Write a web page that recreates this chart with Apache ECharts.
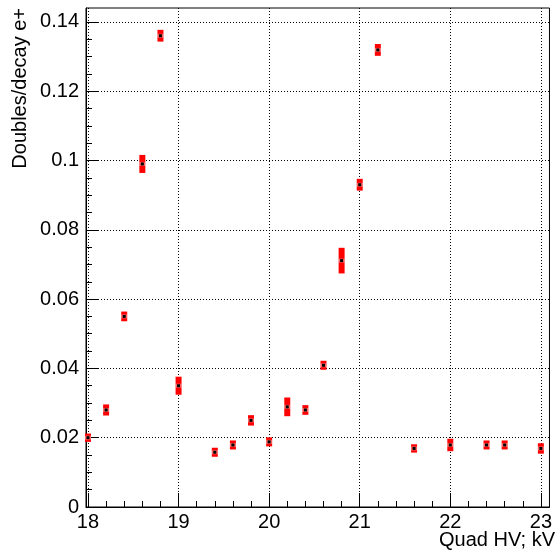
<!DOCTYPE html>
<html><head><meta charset="utf-8">
<script src="https://cdn.jsdelivr.net/npm/echarts@6/dist/echarts.min.js"></script>
<style>html,body{margin:0;padding:0;background:#fff}#c{width:555px;height:552px}</style>
</head><body><div id="c"></div>
<script>
const hv = [18.0, 18.2, 18.4, 18.6, 18.8, 19.0, 19.4, 19.6, 19.8, 20.0, 20.2, 20.4, 20.6, 20.8, 21.0, 21.2, 21.6, 22.0, 22.4, 22.6, 23.0];
const ratio = [0.0200, 0.0280, 0.0550, 0.0990, 0.1360, 0.0350, 0.0158, 0.0179, 0.0250, 0.0188, 0.0289, 0.0280, 0.0409, 0.0711, 0.0930, 0.1319, 0.0169, 0.0179, 0.0179, 0.0179, 0.0169];
const err = [0.0012, 0.0016, 0.0014, 0.0026, 0.0017, 0.0026, 0.0013, 0.0013, 0.0015, 0.0013, 0.0027, 0.0014, 0.0013, 0.0037, 0.0017, 0.0017, 0.0012, 0.0018, 0.0013, 0.0013, 0.0015];
const xMajor = [18, 19, 20, 21, 22, 23];
const xMinor = [18.2, 18.4, 18.6, 18.8, 19.2, 19.4, 19.6, 19.8, 20.2, 20.4, 20.6, 20.8, 21.2, 21.4, 21.6, 21.8, 22.2, 22.4, 22.6, 22.8];
const yMajor = [0, 0.02, 0.04, 0.06, 0.08, 0.1, 0.12, 0.14];
const yMinor = [0.005, 0.01, 0.015, 0.025, 0.03, 0.035, 0.045, 0.05, 0.055, 0.065, 0.07, 0.075, 0.085, 0.09, 0.095, 0.105, 0.11, 0.115, 0.125, 0.13, 0.135];
const xTitle = 'Quad HV; kV';
const yTitle = 'Doubles/decay e+';

const FONT = 'Liberation Sans';
const XMIN = 17.978, XMAX = 23.095, YMIN = 0, YMAX = 0.1440;

const chart = echarts.init(document.getElementById('c'), null, {renderer: 'canvas'});
const data = hv.map((x, i) => [x, ratio[i], err[i]]);

chart.setOption({
  animation: false,
  backgroundColor: '#fff',
  grid: {left: 86, right: 2, top: 8, bottom: 45, show: true, borderColor: '#000', borderWidth: 1, backgroundColor: 'transparent'},
  xAxis: [
    {type: 'value', min: XMIN, max: XMAX, position: 'bottom',
     axisLine: {show: true, onZero: false, lineStyle: {color: '#000', width: 1}},
     axisTick: {show: true, inside: true, length: 14, customValues: xMajor, lineStyle: {color: '#000'}},
     axisLabel: {show: true, customValues: xMajor, formatter: v => String(v), fontFamily: FONT, fontSize: 20, color: '#000', margin: 5},
     splitLine: {show: true, lineStyle: {color: '#000', type: [1, 2], width: 1}}},
    {type: 'value', min: XMIN, max: XMAX, position: 'bottom',
     axisLine: {show: false},
     axisTick: {show: true, inside: true, length: 6, customValues: xMinor, lineStyle: {color: '#000'}},
     axisLabel: {show: false},
     splitLine: {show: false}}
  ],
  yAxis: [
    {type: 'value', min: YMIN, max: YMAX, position: 'left',
     axisLine: {show: true, onZero: false, lineStyle: {color: '#000', width: 1}},
     axisTick: {show: true, inside: true, length: 12, customValues: yMajor, lineStyle: {color: '#000'}},
     axisLabel: {show: true, customValues: yMajor, formatter: v => String(v), fontFamily: FONT, fontSize: 20, color: '#000', margin: 7},
     splitLine: {show: true, lineStyle: {color: '#000', type: [1, 2], width: 1}}},
    {type: 'value', min: YMIN, max: YMAX, position: 'left',
     axisLine: {show: false},
     axisTick: {show: true, inside: true, length: 6, customValues: yMinor, lineStyle: {color: '#000'}},
     axisLabel: {show: false},
     splitLine: {show: false}}
  ],
  graphic: [
    {type: 'text', right: 0, top: 530, style: {text: xTitle, fontFamily: FONT, fontSize: 20, fill: '#000'}},
    {type: 'text', x: 10, y: 8, rotation: Math.PI / 2, style: {text: yTitle, fontFamily: FONT, fontSize: 20, fill: '#000', align: 'right', verticalAlign: 'top'}}
  ],
  series: [{
    type: 'custom',
    xAxisIndex: 0, yAxisIndex: 0,
    data: data,
    encode: {x: 0, y: 1},
    renderItem: function (params, api) {
      const x = api.value(0), y = api.value(1), e = api.value(2);
      const c = api.coord([x, y]);
      const lo = api.coord([x, y - e]);
      const hi = api.coord([x, y + e]);
      return {type: 'group', children: [
        {type: 'rect', shape: {x: c[0] - 3, y: hi[1], width: 6, height: lo[1] - hi[1]}, style: {fill: '#ff0000'}},
        {type: 'rect', shape: {x: c[0] - 3, y: c[1] - 2, width: 6, height: 4}, style: {fill: '#ffffff', opacity: 0.4}},
        {type: 'rect', shape: {x: c[0] - 1.5, y: c[1] - 1.5, width: 3, height: 3}, style: {fill: '#000'}}
      ]};
    }
  }]
});
</script></body></html>
